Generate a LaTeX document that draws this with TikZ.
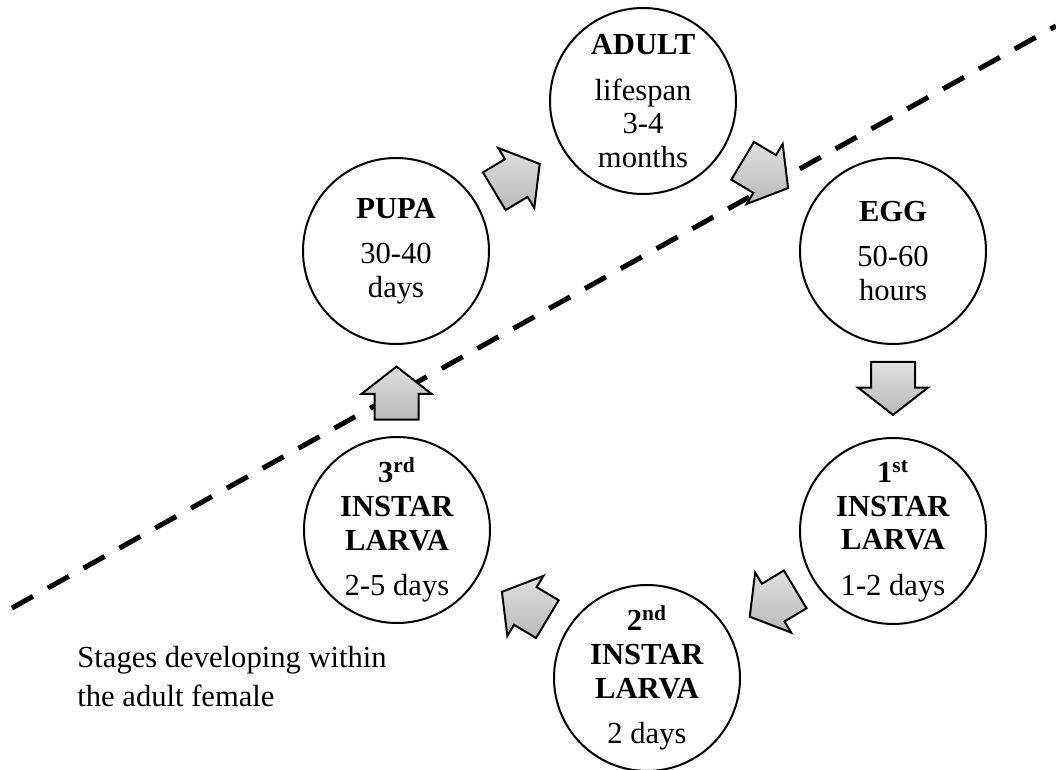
\documentclass[tikz,border=0pt]{standalone}
\usepackage{fontspec}
\setmainfont{Liberation Serif}
\usetikzlibrary{shapes.arrows,calc}
\tikzset{
  stage/.style={circle, draw, line width=1pt, fill=white, minimum size=93pt, inner sep=0pt,
    align=center, font=\fontsize{15.3}{16.8}\selectfont},
  blkarrow/.style={single arrow, draw, line width=1pt, top color=gray!25, bottom color=gray!55,
    minimum height=26.5pt, single arrow head extend=6.5pt,
    single arrow tip angle=104, inner xsep=0pt, inner ysep=10.5pt},
  divider/.style={line width=2.5pt, dash pattern=on 12pt off 8.5pt},
  note/.style={anchor=north west, align=left, inner sep=0pt, font=\fontsize{15.3}{19.5}\selectfont}
}
\begin{document}
\begin{tikzpicture}[x=0.5pt,y=-0.5pt]
\useasboundingbox (0,0) rectangle (1056,770);
% dividing line: stages inside the female lie below it
\coordinate (dl) at (12,608); \coordinate (dr) at (1056,26);
\draw[divider] (dl) -- (dr);
\node[stage] (adult) at (643,101) {\textbf{ADULT}\\[6pt]lifespan\\3-4\\months};
\node[stage] (egg) at (893,251) {\textbf{EGG}\\[6pt]50-60\\hours};
\node[stage] (larva1) at (893,531) {\textbf{1\textsuperscript{st}}\\\textbf{INSTAR}\\\textbf{LARVA}\\[6pt]1-2 days};
\node[stage] (larva2) at (647,678) {\textbf{2\textsuperscript{nd}}\\\textbf{INSTAR}\\\textbf{LARVA}\\[6pt]2 days};
\node[stage] (larva3) at (397,530) {\textbf{3\textsuperscript{rd}}\\\textbf{INSTAR}\\\textbf{LARVA}\\[6pt]2-5 days};
\node[stage] (pupa) at (396,251) {\textbf{PUPA}\\[6pt]30-40\\days};
\foreach \from/\to/\ang in {pupa/adult/31, adult/egg/-31, egg/larva1/-90, larva1/larva2/-149, larva2/larva3/149, larva3/pupa/90}
  \node[blkarrow, rotate=\ang] (\from-\to) at ($(\from)!.46!(\to)$) {};
\node[note] (within) at (77,646) {Stages developing within\\the adult female};
\end{tikzpicture}
\end{document}
